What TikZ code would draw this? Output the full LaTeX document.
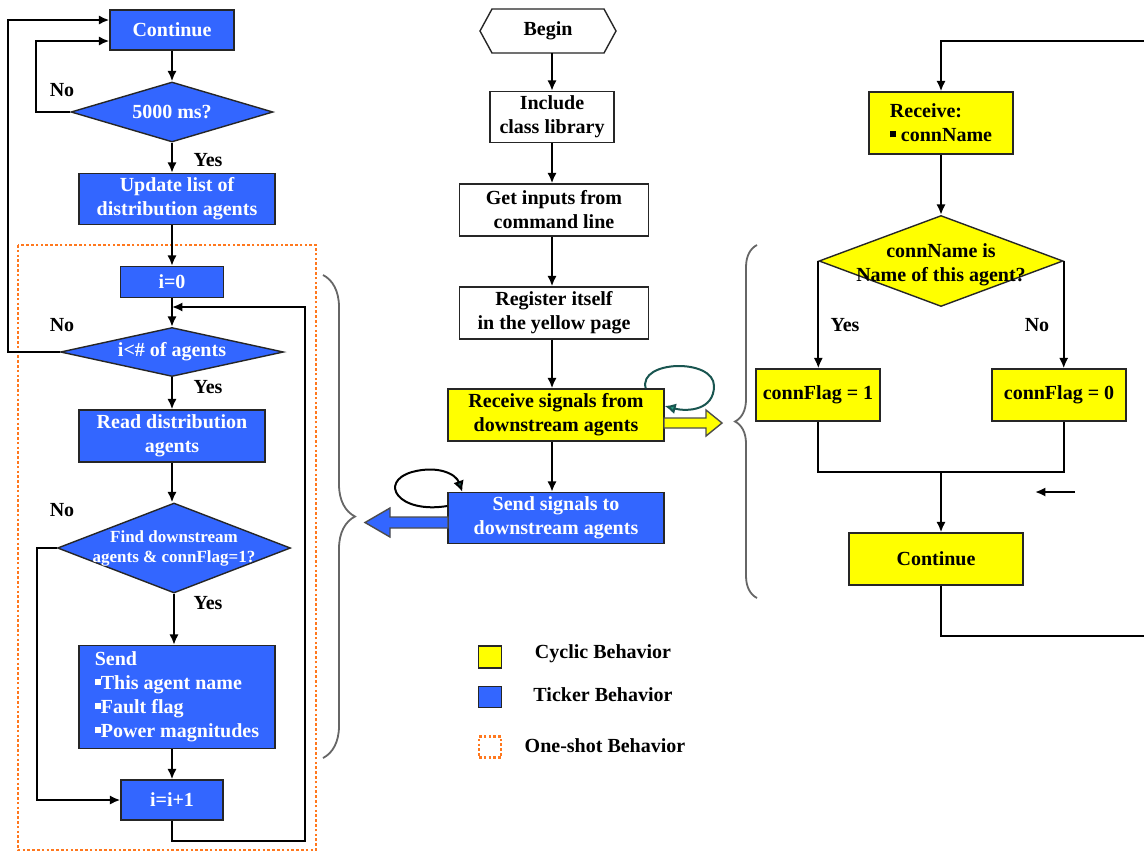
\documentclass[tikz,border=0pt]{standalone}
\usepackage{fontspec}
\setmainfont{Liberation Serif}
\usetikzlibrary{arrows.meta,shapes,decorations.pathreplacing}

\definecolor{tickblue}{RGB}{51,102,255}
\definecolor{cycyellow}{RGB}{255,255,0}
\definecolor{shotorange}{RGB}{255,120,30}
\definecolor{loopteal}{RGB}{25,85,80}
\definecolor{loopgreen}{RGB}{40,160,130}
\newcommand{\bul}{\rule[0.22em]{0.3em}{0.3em}}

\begin{document}
\begin{tikzpicture}[x=0.5pt,y=-0.5pt,>={Latex[length=5.2pt,width=4.6pt]},
  line width=1pt,font=\fontsize{10}{12}\selectfont\bfseries,
  every node/.style={inner sep=0pt},
  boxsize/.style 2 args={minimum width=#1*0.5pt,minimum height=#2*0.5pt},
  ticker/.style={rectangle,draw=black!85,line width=0.7pt,fill=tickblue,text=white,align=center},
  cyclic/.style={rectangle,draw=black!85,line width=0.7pt,fill=cycyellow,align=center},
  plain/.style={rectangle,draw=black!85,line width=0.7pt,fill=white,align=center},
  dia/.style={diamond,draw=black!85,line width=0.7pt},
  dtext/.style={font=\fontsize{8.5}{10}\selectfont\bfseries},
  oneshot/.style={draw=shotorange,line width=1.4pt,dash pattern=on 1.3pt off 1.1pt},
  brace/.style={decorate,decoration={brace,amplitude=#1},draw=black!60,line width=0.9pt},
  selfloop/.style={line width=1pt,-{Latex[length=5pt,width=5pt]}}]

  \fill[white] (0,0) rectangle (1144,852);
  \useasboundingbox (0,0) rectangle (1144,852);

  % ticker loop
  \node[ticker,boxsize={124}{40}] (cont1) at (172,30) {Continue};
  \node[dia,fill=tickblue,boxsize={202}{60}] (d1) at (172,112) {};
  \node[text=white] (d1t) at (d1) {5000 ms?};
  \node[ticker,boxsize={196}{51}] (upd) at (177,199) {Update list of\\distribution agents};

  \draw[oneshot] (18,245) rectangle (316,850);

  \node[ticker,boxsize={103}{31}] (i0) at (172,282) {i=0};
  \node[dia,fill=tickblue,boxsize={223}{49}] (d2) at (172,352) {};
  \node[text=white] (d2t) at (d2) {i<\# of agents};
  \node[ticker,boxsize={186}{52}] (rd) at (172,436) {Read distribution\\agents};
  \node[dia,fill=tickblue,boxsize={233}{90}] (d3) at (174,548) {};
  \node[text=white,dtext,align=center] (d3t) at (d3) {Find downstream\\agents \& connFlag=1?};
  \node[ticker,align=left,boxsize={196}{103}] (snd) at (177,697)
    {Send\\\bul This agent name\\\bul Fault flag\\\bul Power magnitudes};
  \node[ticker,boxsize={102}{40}] (inc) at (172,800) {i=i+1};

  \node (no1) at (62,90) {No};
  \node (yes1) at (208,160) {Yes};
  \node (no2) at (62,325) {No};
  \node (yes2) at (208,387) {Yes};
  \node (no3) at (62,510) {No};
  \node (yes3) at (208,603) {Yes};

  \draw[->] (cont1.south) -- (d1.north);
  \draw[->] (d1.south) -- (d1.south |- upd.north);
  \draw[->] (i0.north |- upd.south) -- (i0.north);
  \draw[->] (i0.south) -- (d2.north);
  \draw[->] (d2.south) -- (rd.north);
  \draw[->] (rd.south) -- (rd.south |- d3.north);
  \draw[->] (d3.south) -- (d3.south |- snd.north);
  \draw[->] (inc.north |- snd.south) -- (inc.north);

  \draw[->] (d1.west) -- ++(-34,0) |- ([yshift=-5.5pt]cont1.west);
  \draw[->] (d2.west) -- ++(-52,0) |- ([yshift=5pt]cont1.west);
  \draw[->] (d3.west) -- ++(-20,0) |- (inc.west);
  \coordinate (join) at (172,307);
  \draw[->] (inc.south) -- ++(0,20) -| (305,307) -- (join);

  \draw[brace=16pt] (323,275) -- (323,758);

  % agent main line
  \node[boxsize={134}{42}] (beg) at (548,31) {Begin};
  \draw[line width=0.7pt,draw=black!85] (beg.west) -- ([xshift=6pt]beg.north west)
    -- ([xshift=-6pt]beg.north east) -- (beg.east) -- ([xshift=-6pt]beg.south east)
    -- ([xshift=6pt]beg.south west) -- cycle;
  \node[plain,boxsize={124}{51}] (incl) at (552,117) {Include\\class library};
  \node[plain,boxsize={189}{52}] (get) at (554,210) {Get inputs from\\command line};
  \node[plain,boxsize={189}{52}] (reg) at (554,313) {Register itself\\in the yellow page};
  \node[cyclic,boxsize={216}{52}] (rcv) at (556,415) {Receive signals from\\downstream agents};
  \node[ticker,boxsize={216}{51}] (sig) at (556,518) {Send signals to\\downstream agents};

  \draw[->] (beg.south -| incl) -- (incl.north);
  \draw[->] (incl.south) -- (incl |- get.north);
  \draw[->] (incl |- get.south) -- (incl |- reg.north);
  \draw[->] (incl |- reg.south) -- (incl |- rcv.north);
  \draw[->] (incl |- rcv.south) -- (incl |- sig.north);

  \draw[selfloop,loopteal,-{Latex[length=5.5pt,width=5.5pt,fill=loopgreen]}]
    ([xshift=-9.5pt]rcv.north east) .. controls (638,360) and (714,358) .. (714,386)
    .. controls (714,410) and (688,412) .. ([yshift=4.5pt]rcv.east);
  \draw[selfloop,black,-{Latex[length=5.5pt,width=5.5pt,fill=loopteal]}]
    ([yshift=6pt]sig.west) .. controls (398,514) and (378,482) .. (412,472)
    .. controls (438,465) and (456,474) .. ([xshift=7.5pt]sig.north west);

  % behaviour hand-over arrows
  \draw[line width=0.7pt,draw=black!70,fill=cycyellow] (664,418) -- (706,418) -- (706,410)
    -- (722,423) -- (706,436) -- (706,428) -- (664,428) -- cycle;
  \draw[line width=0.7pt,draw=black!70,fill=tickblue] (448,517) -- (390,517) -- (390,508)
    -- (365,522.5) -- (390,537) -- (390,528) -- (448,528) -- cycle;

  % legend
  \node[cyclic,boxsize={23}{22}] (lgc) at (490,657) {};
  \node[ticker,boxsize={23}{21}] (lgt) at (490,697) {};
  \node[oneshot,boxsize={22}{21}] (lgo) at (490,747) {};
  \node (lgct) at (603,654) {Cyclic Behavior};
  \node (lgtt) at (603,695) {Ticker Behavior};
  \node (lgot) at (605,746) {One-shot Behavior};

  % cyclic receiver
  \node[cyclic,align=left,boxsize={144}{62}] (rcvn) at (941,123) {Receive:\\\bul\ connName};
  \coordinate (topin) at (1144,41);
  \draw[->] (topin) -| (rcvn.north);
  \node[dia,fill=cycyellow,boxsize={244}{91}] (d4) at (941,261) {};
  \node[align=center] (d4t) at (941,265) {connName is\\Name of this agent?};
  \draw[->] (rcvn.south) -- (d4.north);

  \node[cyclic,boxsize={124}{52}] (cf1) at (818,395) {connFlag = 1};
  \node[cyclic,boxsize={134}{52}] (cf0) at (1059,395) {connFlag = 0};
  \node (yes4) at (845,325) {Yes};
  \node (no4) at (1037,325) {No};
  \draw[->] (d4.west) -- (d4.west |- cf1.north);
  \draw[->] (d4.east) -- (d4.east |- cf0.north);

  \coordinate (merge) at (941,472);
  \draw (cf1.south) |- (merge) -| (cf0.south -| d4.east);
  \node[cyclic,boxsize={174}{52}] (cont2) at (936,559) {Continue};
  \draw[->] (merge) -- (merge |- cont2.north);
  \coordinate (topout) at (1144,636);
  \draw (merge |- cont2.south) |- (topout);

  \coordinate (sa) at (1075,492);
  \coordinate (sb) at (1035,492);
  \draw[->] (sa) -- (sb);

  \draw[brace=11pt] (757,598) -- (757,245);

\end{tikzpicture}
\end{document}
